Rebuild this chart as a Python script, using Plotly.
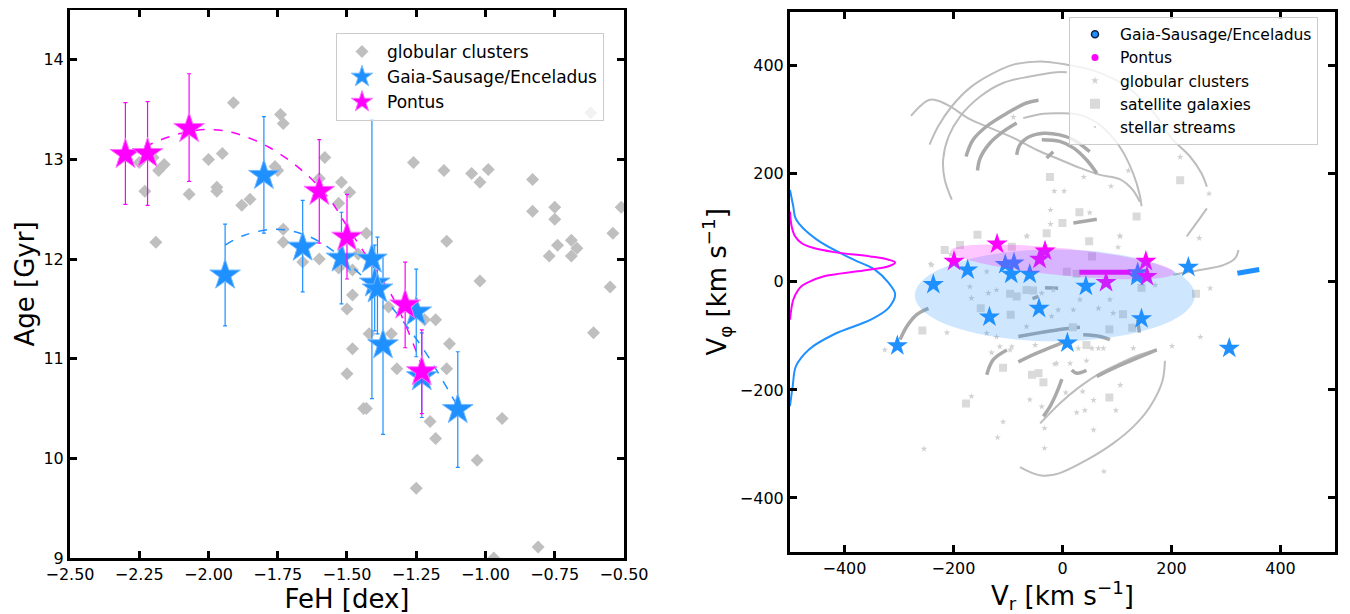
import numpy as np
import plotly.graph_objects as go

# ---------------------------------------------------------------- left panel
# globular clusters: [Fe/H] vs age
GC_FEH = [-2.25, -2.23, -2.20, -2.18, -2.16, -2.19, -2.07, -2.00, -1.97, -1.97,
          -1.95, -1.91, -1.88, -1.85, -1.76, -1.75, -1.74, -1.73, -1.73, -1.73,
          -1.66, -1.60, -1.60, -1.58, -1.53, -1.52, -1.53, -1.49, -1.48, -1.46,
          -1.43, -1.48, -1.26, -1.15, -1.14, -1.05, -1.02, -0.99, -1.02, -0.83,
          -0.83, -0.75, -0.75, -0.77, -0.74, -0.69, -0.69, -0.67, -0.54, -0.51,
          -0.55, -0.62, -1.50, -1.42, -1.48, -1.50, -1.44, -1.43, -1.35, -1.34,
          -1.32, -1.22, -1.18, -1.13, -1.14, -1.20, -1.18, -1.25, -1.03, -0.94,
          -0.61, -0.81, -0.97]
GC_AGE = [12.97, 12.68, 13.02, 12.89, 12.95, 12.17, 12.65, 13.00, 12.72, 12.68,
          13.06, 13.57, 12.54, 12.60, 12.93, 12.89, 13.45, 13.36, 12.30, 12.17,
          11.97, 12.81, 12.00, 13.02, 12.56, 12.77, 11.91, 12.67, 11.89, 12.05,
          12.26, 11.64, 12.97, 12.89, 12.18, 12.86, 12.77, 12.90, 11.78, 12.80,
          12.48, 12.52, 12.40, 12.03, 12.14, 12.19, 12.03, 12.11, 12.26, 12.52,
          11.72, 13.47, 11.50, 11.25, 11.10, 10.85, 10.50, 10.50, 11.52, 11.25,
          10.90, 11.39, 11.39, 11.15, 10.90, 10.37, 10.20, 9.70, 9.98, 10.40,
          11.26, 9.11, 9.00]

# Gaia-Sausage/Enceladus members
GSE_FEH = [-1.94, -1.80, -1.66, -1.52, -1.41, -1.40, -1.39, -1.37, -1.25, -1.23, -1.10]
GSE_AGE = [11.84, 12.84, 12.12, 12.01, 12.00, 11.76, 11.70, 11.14, 11.47, 10.82, 10.49]
GSE_AGE_HI = [12.35, 13.43, 12.59, 12.47, 13.40, 12.14, 12.22, 12.04, 11.90, 11.26, 11.07]
GSE_AGE_LO = [11.33, 12.26, 11.67, 11.55, 10.60, 11.28, 11.25, 10.24, 11.02, 10.41, 9.91]

# Pontus members
PON_FEH = [-2.30, -2.22, -2.07, -1.60, -1.50, -1.29, -1.23]
PON_AGE = [13.05, 13.06, 13.31, 12.68, 12.22, 11.54, 10.87]
PON_AGE_HI = [13.57, 13.58, 13.86, 13.20, 12.65, 11.97, 11.29]
PON_AGE_LO = [12.55, 12.54, 12.78, 12.16, 11.80, 11.11, 10.45]

# dashed trend lines
PON_FIT_FEH = [-2.29, -2.22, -2.15, -2.07, -1.99, -1.90, -1.78, -1.65, -1.56, -1.50, -1.42, -1.33, -1.23]
PON_FIT_AGE = [13.05, 13.14, 13.22, 13.28, 13.30, 13.26, 13.12, 12.86, 12.59, 12.33, 11.99, 11.59, 10.93]
GSE_FIT_FEH = [-1.94, -1.87, -1.76, -1.67, -1.59, -1.51, -1.42, -1.34, -1.23, -1.10]
GSE_FIT_AGE = [12.14, 12.24, 12.30, 12.26, 12.16, 11.99, 11.76, 11.52, 11.12, 10.52]

FEH_TICKS = [-2.50, -2.25, -2.00, -1.75, -1.50, -1.25, -1.00, -0.75, -0.50]
AGE_TICKS = [9, 10, 11, 12, 13, 14]

# --------------------------------------------------------------- right panel
GSE_VR = [-237, -174, -105, -89, -94, -60, -134, -43, 43, 137, 138, 145, 231, -303, 9, 306]
GSE_VPHI = [-5, 22, 32, 35, 14, 14, -65, -49, -8, 10, 17, -68, 27, -118, -113, -123]
PON_VR = [-199, -120, -32, -42, 153, 155, 80]
PON_VPHI = [38, 70, 57, 42, 38, 10, -1]

SAT_VR = [-23, 216, 31, 136, 0, -29, -156, 49, -216, -188, -93, 54, 8, 26, 145, 245,
          -66, -54, -84, -96, -150, -95, -257, 19, 86, 128, 111, 44, -109, -56, -44,
          -35, 86, -177]
SAT_VPHI = [194, 188, 129, 121, 109, 90, 87, 75, 59, 68, 65, 47, 19, 15, -11, -22,
            -15, -16, -27, -22, -49, -61, -90, -84, -88, -85, -60, -117, -159, -172, -169,
            -186, -214, -225]

GCR_VR = [-90, 39, 89, -15, 3, -22, 50, -22, 216, 121, 269, 106, 102, 251, 170, 271,
          -66, -240, -139, -170, -167, -136, -121, -38, -17, -66, -20, -8, -212, -139,
          -121, -326, -93, -50, -11, 29, 66, 93, 87, 66, 20, 32, -130, -115, -96, -167,
          -109, -119, -254, -60, -38, -33, -33, -14, 14, 44, 54, 75, 130, 57, 26, 41, 57,
          98, 106, 6, 37, 76, 253, 201, -242, -65, 105, -205]
GCR_VPHI = [305, 194, 177, 168, 168, 133, 128, 107, 231, 206, 163, 84, 64, 81, -6, -12,
            84, 31, 19, -9, -30, -21, -15, -21, -15, -83, -64, -52, -94, -95,
            -102, -126, -120, -117, -151, -123, -123, -58, -33, -49, -52, -33, -131, -120, -126, -212,
            -259, -288, -309, -218, -231, -271, -308, -152, -151, -146, -123, -123, -123, -219, -242, -238, -274,
            -238, -191, -205, -203, -351, -102, -119, 33, 85, 85, 51]

# stellar streams: (vr list, vphi list, thick?)
STREAMS = [
    ([-278, -243, -212, -170, -133, -91, -47, -4, 32, 69, 105, 129, 142],
     [307, 337, 328, 301, 285, 267, 244, 226, 211, 198, 190, 170, 148], False),
    ([-244, -228, -203, -170, -133, -90, -41, 8, 60, 120, 170, 200, 234, 255, 265],
     [254, 288, 325, 359, 383, 402, 408, 402, 390, 360, 310, 266, 232, 201, 176], False),
    ([265, 246, 228], [136, 109, 84], False),
    ([-203, -216, -219, -209, -188, -151, -109, -60, -11, 8],
     [152, 189, 226, 269, 306, 343, 368, 380, 388, 388], False),
    ([-72, -35, -5, 32, 69, 105, 130, 142, 145],
     [303, 311, 312, 309, 290, 250, 200, 160, 140], False),
    ([-177, -164, -139, -102, -66, -44], [232, 263, 288, 312, 331, 336], True),
    ([-156, -151, -133, -109, -84], [206, 229, 257, 278, 294], True),
    ([-84, -78, -60, -35, -5, 20, 50], [235, 254, 269, 275, 272, 263, 241], True),
    ([-38, -5, 20, 44, 63], [263, 260, 248, 226, 201], True),
    ([-29, -17], [229, 241], True),
    ([20, 63], [109, 116], True),
    ([323, 317, 295, 252, 203], [59, 44, 31, 22, 13], False),
    ([-298, -286, -268, -246], [-107, -83, -61, -49], True),
    ([-81, -41, -5, 32], [-101, -94, -88, -84], True),
    ([38, 69, 87], [-98, -101, -107], True),
    ([138, 141], [-70, -94], True),
    ([-32, -8], [-11, -12], True),
    ([-55, -44], [-31, -27], True),
    ([-139, -127, -102], [-172, -144, -126], True),
    ([-81, -47, -11, 8], [-148, -132, -117, -109], True),
    ([17, 26, 44], [-163, -169, -164], True),
    ([-41, -5, 32, 69, 105, 142, 173], [-262, -225, -194, -169, -151, -135, -125], False),
    ([63, 93, 130, 173], [-175, -160, -144, -126], True),
    ([-1, -11, -23, -35], [-180, -206, -231, -249], True),
    ([188, 183, 160, 130, 93, 44, -5, -35, -55, -78],
     [-146, -185, -232, -268, -299, -330, -354, -359, -354, -343], False),
]

# coloured tracks
PON_TRACK_VR = [31, 125]
PON_TRACK_VPHI = [18, 18]
GSE_TRACK_VR = [321, 361]
GSE_TRACK_VPHI = [16, 23]

# marginal V_phi distributions drawn against the left edge
PON_KDE_VPHI = [-70, -33, -15, -8, 0, 10, 21, 29, 36, 41, 47, 55, 63, 72, 85, 103, 130]
PON_KDE_VR = [-500, -494, -485, -479, -465, -439, -365, -319, -307, -319, -352, -419, -458, -479, -491, -497, -500]
GSE_KDE_VPHI = [-230, -193, -156, -125, -97, -70, -48, -23, -2, 23, 42, 79, 116, 140, 170]
GSE_KDE_VR = [-500, -495, -489, -465, -419, -352, -319, -307, -319, -345, -385, -452, -489, -494, -500]

# ellipses: centre vr, centre vphi, semi-axis vr, semi-axis vphi, angle (deg)
GSE_ELL = [-14, -25, 257, 85, 0]
PON_ELL = [0, 37, 206, 25, -5.7]

V_TICKS = [-400, -200, 0, 200, 400]

BLUE = "#1e90ff"
MAG = "#ff00ff"
FONT = "DejaVu Sans"

fig = go.Figure()

# ---- left
fig.add_trace(go.Scatter(
    x=GC_FEH, y=GC_AGE, mode="markers", name="globular clusters",
    marker=dict(symbol="diamond", size=10, color="#bfbfbf"),
    xaxis="x", yaxis="y", legend="legend"))
fig.add_trace(go.Scatter(
    x=PON_FIT_FEH, y=PON_FIT_AGE, mode="lines", showlegend=False,
    line=dict(color=MAG, width=1.5, dash="dash", shape="spline"), xaxis="x", yaxis="y"))
fig.add_trace(go.Scatter(
    x=GSE_FIT_FEH, y=GSE_FIT_AGE, mode="lines", showlegend=False,
    line=dict(color=BLUE, width=1.5, dash="dash", shape="spline"), xaxis="x", yaxis="y"))

gse_age = np.array(GSE_AGE)
pon_age = np.array(PON_AGE)
fig.add_trace(go.Scatter(
    x=GSE_FEH, y=GSE_AGE, mode="markers", name="Gaia-Sausage/Enceladus",
    marker=dict(symbol="star", size=23, color=BLUE, line=dict(color="#70b8ff", width=1)),
    error_y=dict(type="data", symmetric=False, array=np.array(GSE_AGE_HI) - gse_age,
                 arrayminus=gse_age - np.array(GSE_AGE_LO), color=BLUE, thickness=1.2, width=2),
    xaxis="x", yaxis="y", legend="legend"))
fig.add_trace(go.Scatter(
    x=PON_FEH, y=PON_AGE, mode="markers", name="Pontus",
    marker=dict(symbol="star", size=23, color=MAG, line=dict(color="#ff70ff", width=1)),
    error_y=dict(type="data", symmetric=False, array=np.array(PON_AGE_HI) - pon_age,
                 arrayminus=pon_age - np.array(PON_AGE_LO), color=MAG, thickness=1.2, width=2),
    xaxis="x", yaxis="y", legend="legend"))

# ---- right
for vr, vphi, thick in STREAMS:
    fig.add_trace(go.Scatter(
        x=vr, y=vphi, mode="lines", showlegend=False, hoverinfo="skip",
        line=dict(color="#a9a9a9" if thick else "#bdbdbd", width=3.5 if thick else 2,
                  shape="spline"),
        xaxis="x2", yaxis="y2"))
fig.add_trace(go.Scatter(
    x=SAT_VR, y=SAT_VPHI, mode="markers", showlegend=False,
    marker=dict(symbol="square", size=8, color="#dadada"), xaxis="x2", yaxis="y2"))
fig.add_trace(go.Scatter(
    x=GCR_VR, y=GCR_VPHI, mode="markers", showlegend=False,
    marker=dict(symbol="star", size=5, color="#d2d2d2"), xaxis="x2", yaxis="y2"))
fig.add_trace(go.Scatter(
    x=GSE_VR, y=GSE_VPHI, mode="markers", showlegend=False,
    marker=dict(symbol="star", size=16, color=BLUE), xaxis="x2", yaxis="y2"))
fig.add_trace(go.Scatter(
    x=PON_VR, y=PON_VPHI, mode="markers", showlegend=False,
    marker=dict(symbol="star", size=16, color=MAG), xaxis="x2", yaxis="y2"))
fig.add_trace(go.Scatter(
    x=PON_TRACK_VR, y=PON_TRACK_VPHI, mode="lines", showlegend=False,
    line=dict(color=MAG, width=5), xaxis="x2", yaxis="y2"))
fig.add_trace(go.Scatter(
    x=GSE_TRACK_VR, y=GSE_TRACK_VPHI, mode="lines", showlegend=False,
    line=dict(color=BLUE, width=5), xaxis="x2", yaxis="y2"))
fig.add_trace(go.Scatter(
    x=GSE_KDE_VR, y=GSE_KDE_VPHI, mode="lines", showlegend=False,
    line=dict(color=BLUE, width=2, shape="spline"), xaxis="x2", yaxis="y2"))
fig.add_trace(go.Scatter(
    x=PON_KDE_VR, y=PON_KDE_VPHI, mode="lines", showlegend=False,
    line=dict(color=MAG, width=2, shape="spline"), xaxis="x2", yaxis="y2"))

# legend-only handles for the right panel
for name, mk in [
    ("Gaia-Sausage/Enceladus", dict(symbol="circle", size=7, color=BLUE, line=dict(color="#102040", width=1.5))),
    ("Pontus", dict(symbol="circle", size=7, color=MAG)),
    ("globular clusters", dict(symbol="star", size=6, color="#d2d2d2")),
    ("satellite galaxies", dict(symbol="square", size=10, color="#dadada")),
    ("stellar streams", dict(symbol="circle", size=2, color="#c6c6c6")),
]:
    fig.add_trace(go.Scatter(x=[None], y=[None], mode="markers", name=name, marker=mk,
                             xaxis="x2", yaxis="y2", legend="legend2"))

# ellipses on top of the points
cx, cy, a, b, _ = GSE_ELL
fig.add_shape(type="circle", xref="x2", yref="y2", x0=cx - a, x1=cx + a, y0=cy - b, y1=cy + b,
              fillcolor="rgba(30,144,255,0.22)", line=dict(width=0), layer="above")
cx, cy, a, b, ang = PON_ELL
t = np.linspace(0, 2 * np.pi, 120)
th = np.deg2rad(ang)
ex = cx + a * np.cos(t) * np.cos(th) - b * np.sin(t) * np.sin(th)
ey = cy + a * np.cos(t) * np.sin(th) + b * np.sin(t) * np.cos(th)
path = "M " + " L ".join("%.2f,%.2f" % (u, v) for u, v in zip(ex, ey)) + " Z"
fig.add_shape(type="path", xref="x2", yref="y2", path=path,
              fillcolor="rgba(255,0,255,0.22)", line=dict(width=0), layer="above")

axis_common = dict(
    showline=True, linewidth=3, linecolor="black", mirror="allticks",
    ticks="inside", ticklen=7, tickwidth=3, tickcolor="black",
    showgrid=False, zeroline=False, automargin=False,
    tickfont=dict(family=FONT, size=16, color="black"),
)

# page body adds an 8 px offset, so the figure is 8 px smaller than the window
fig.update_layout(
    width=1342, height=606,
    margin=dict(l=0, r=0, t=0, b=0),
    paper_bgcolor="white", plot_bgcolor="white",
    font=dict(family=FONT, color="black"),
    xaxis=dict(domain=[0.0462, 0.4590], range=[-2.5, -0.5], tickvals=FEH_TICKS,
               tickformat=".2f", anchor="y",
               title=dict(text="FeH [dex]", font=dict(size=26), standoff=2), **axis_common),
    yaxis=dict(domain=[0.0924, 0.9967], range=[9, 14.5], tickvals=AGE_TICKS, anchor="x",
               title=dict(text="Age [Gyr]", font=dict(size=26), standoff=2), **axis_common),
    xaxis2=dict(domain=[0.5827, 0.9888], range=[-500, 500], tickvals=V_TICKS, anchor="y2",
                title=dict(text="V<sub>r</sub> [km s<sup>−1</sup>]", font=dict(size=26), standoff=2),
                **axis_common),
    yaxis2=dict(domain=[0.1023, 0.9939], range=[-500, 500], tickvals=V_TICKS, anchor="x2",
                title=dict(text="V<sub>φ</sub> [km s<sup>−1</sup>]", font=dict(size=26), standoff=6),
                **axis_common),
    legend=dict(x=0.2444, y=0.9587, xanchor="left", yanchor="top",
                bgcolor="rgba(255,255,255,0.8)", bordercolor="#cccccc", borderwidth=1,
                font=dict(family=FONT, size=17), itemwidth=40, tracegroupgap=0),
    legend2=dict(x=0.7906, y=0.9856, xanchor="left", yanchor="top",
                 bgcolor="rgba(255,255,255,0.8)", bordercolor="#cccccc", borderwidth=1,
                 font=dict(family=FONT, size=15.5), itemwidth=40, tracegroupgap=0),
)

fig.write_html("out.html")
